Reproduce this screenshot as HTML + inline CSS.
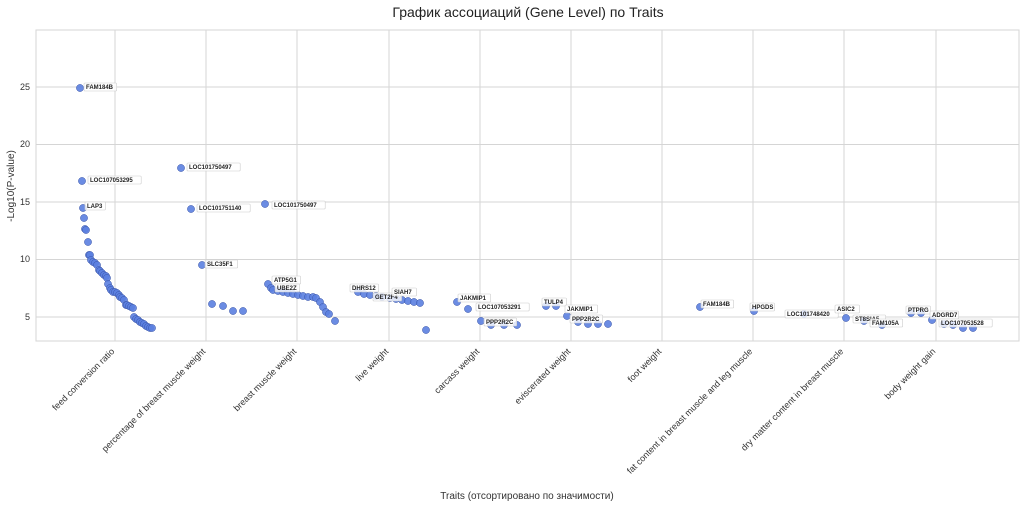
<!DOCTYPE html>
<html><head><meta charset="utf-8"><style>
body{margin:0;background:#fff;}
svg{display:block;font-family:"Liberation Sans","DejaVu Sans",sans-serif;}
.tk{font-size:9px;fill:#333;}
.lb{font-size:6px;font-weight:bold;fill:#222;}
.bx{fill:#fff;fill-opacity:0.8;stroke:#ccc;stroke-width:0.6;}
</style></head><body>
<svg width="1024" height="507" xmlns="http://www.w3.org/2000/svg">
<text x="528" y="17" text-anchor="middle" font-size="14" fill="#222">График ассоциаций (Gene Level) по Traits</text>
<rect x="36" y="30" width="983" height="311" fill="#fff" stroke="#d5d5d5"/>
<g stroke="#d5d5d5" stroke-width="1">
<line x1="36" x2="1019" y1="87" y2="87"/><line x1="36" x2="1019" y1="144.5" y2="144.5"/>
<line x1="36" x2="1019" y1="202" y2="202"/><line x1="36" x2="1019" y1="259.5" y2="259.5"/>
<line x1="36" x2="1019" y1="317" y2="317"/>
<line x1="115" x2="115" y1="30" y2="341"/><line x1="206" x2="206" y1="30" y2="341"/>
<line x1="297" x2="297" y1="30" y2="341"/><line x1="389" x2="389" y1="30" y2="341"/>
<line x1="480" x2="480" y1="30" y2="341"/><line x1="571" x2="571" y1="30" y2="341"/>
<line x1="662" x2="662" y1="30" y2="341"/><line x1="753" x2="753" y1="30" y2="341"/>
<line x1="844" x2="844" y1="30" y2="341"/><line x1="936" x2="936" y1="30" y2="341"/>
</g>
<g class="tk" text-anchor="end">
<text x="30" y="90">25</text><text x="30" y="147">20</text><text x="30" y="205">15</text>
<text x="30" y="262">10</text><text x="30" y="320">5</text>
</g>
<text transform="translate(14,186) rotate(-90)" text-anchor="middle" font-size="10" fill="#333">-Log10(P-value)</text>
<g class="tk" text-anchor="end">
<text transform="translate(115,352) rotate(-45)">feed conversion ratio</text>
<text transform="translate(206,352) rotate(-45)">percentage of breast muscle weight</text>
<text transform="translate(297,352) rotate(-45)">breast muscle weight</text>
<text transform="translate(389,352) rotate(-45)">live weight</text>
<text transform="translate(480,352) rotate(-45)">carcass weight</text>
<text transform="translate(571,352) rotate(-45)">eviscerated weight</text>
<text transform="translate(662,352) rotate(-45)">foot weight</text>
<text transform="translate(753,352) rotate(-45)">fat content in breast muscle and leg muscle</text>
<text transform="translate(844,352) rotate(-45)">dry matter content in breast muscle</text>
<text transform="translate(936,352) rotate(-45)">body weight gain</text>
</g>
<text x="527" y="499" text-anchor="middle" font-size="10" fill="#333">Traits (отсортировано по значимости)</text>
<g fill="#5b7fe0" fill-opacity="0.9" stroke="#3a55a8" stroke-width="0.5" id="pts"></g>
<g id="lbls"></g>
</svg>
<script>
var P=[[80,88],[82,181],[83,208],[84,218],[85,229],[86,230],[88,242],[89,255],[90,255],[91,260],[93,262],[95,263],[97,265],[99,270],[100,271],[102,273],[104,275],[106,276],[107,278],[108,284],[110,288],[111,290],[113,292],[115,292],[117,293],[119,295],[120,297],[122,298],[124,300],[126,305],[127,305],[129,306],[131,307],[133,308],[134,317],[136,319],[138,320],[140,322],[142,323],[144,324],[146,326],[148,327],[150,328],[152,328],
[181,168],[191,209],[202,265],[212,304],[223,306],[233,311],[243,311],
[265,204],[268,284],[271,288],[273,290],[278,291],[283,292],[288,293],[293,294],[298,295],[303,296],[308,297],[313,297],[316,298],[320,302],[323,307],[326,312],[329,314],[335,321],
[358,292],[364,294],[370,295],[376,296],[382,297],[390,298],[396,299],[402,300],[408,301],[414,302],[420,303],[426,330],
[457,302],[468,309],[481,321],[491,325],[504,325],[517,325],
[546,306],[556,306],[567,316],[578,322],[588,324],[598,324],[608,324],
[700,307],[754,311],[804,314],
[846,318],[864,321],[882,325],
[911,313],[921,313],[932,320],[944,324],[953,325],[963,328],[973,328]];
var g=document.getElementById('pts'),s='';
P.forEach(function(p){s+='<circle cx="'+p[0]+'" cy="'+p[1]+'" r="3.6"/>';});
g.innerHTML=s;
var L=[[85,88,'FAM184B'],[89,181,'LOC107053295'],[86,207,'LAP3'],[188,168,'LOC101750497'],[198,209,'LOC101751140'],[206,265,'SLC35F1'],[273,206,'LOC101750497'],[273,281,'ATP5G1'],[276,289,'UBE2Z'],[351,289,'DHRS12'],[374,298,'GET2F4'],[393,293,'SIAH7'],[459,299,'JAKMIP1'],[477,308,'LOC107053291'],[485,323,'PPP2R2C'],[543,303,'TULP4'],[566,310,'JAKMIP1'],[571,320,'PPP2R2C'],[702,305,'FAM184B'],[751,308,'HPGDS'],[786,315,'LOC101748420'],[836,310,'ASIC2'],[854,320,'ST8SIA5'],[871,324,'FAM105A'],[907,311,'PTPRG'],[931,316,'ADGRD7'],[940,324,'LOC107053528']];
var h='';
L.forEach(function(l){var w=l[2].length*4.1+4;h+='<rect class="bx" x="'+(l[0]-1)+'" y="'+(l[1]-5)+'" width="'+w+'" height="8" rx="1"/><text class="lb" x="'+(l[0]+1)+'" y="'+(l[1]+1)+'">'+l[2]+'</text>';});
document.getElementById('lbls').innerHTML=h;
</script>
</body></html>
